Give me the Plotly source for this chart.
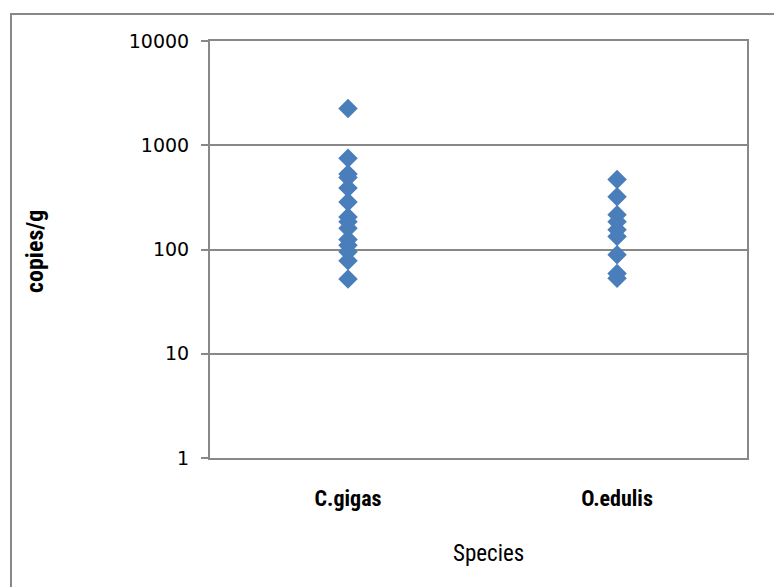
import plotly.graph_objects as go

species = ["C.gigas", "O.edulis"]
cgigas_values = [2250, 750, 530, 490, 390, 285, 205, 185, 160, 125, 110, 95, 78, 52]
oedulis_values = [470, 320, 215, 185, 155, 133, 89, 59, 53]
y_tick_values = [1, 10, 100, 1000, 10000]
y_tick_labels = ["1", "10", "100", "1000", "10000"]

xs = [species[0]] * len(cgigas_values) + [species[1]] * len(oedulis_values)
ys = cgigas_values + oedulis_values

W, H = 782, 587
OFF = 8  # page body margin offset
L, T = 210 - OFF, 41 - OFF
R, B = W - (747 - OFF), H - (458 - OFF)
pw, ph = W - L - R, H - T - B


def px_x(x):
    return (x - OFF - L) / pw


def px_y(y):
    return (T + ph - (y - OFF)) / ph


fig = go.Figure()
fig.add_trace(go.Scatter(
    x=xs, y=ys, mode="markers",
    marker=dict(symbol="diamond", size=15, color="#4A7EBB", line=dict(width=0)),
    showlegend=False,
))

label_font = "Liberation Sans Narrow, Roboto Condensed, Arial Narrow, Roboto, sans-serif"

fig.update_layout(
    width=W, height=H,
    margin=dict(l=L, r=R, t=T, b=B, autoexpand=False),
    paper_bgcolor="white", plot_bgcolor="white",
    xaxis=dict(
        type="category", range=[-0.513, 1.483], automargin=False,
        showgrid=False, zeroline=False,
        showline=True, linecolor="#888888", linewidth=2, mirror=True,
        ticks="", ticklabelstandoff=20,
        tickfont=dict(family=label_font, size=22, color="black", weight="bold"),
    ),
    yaxis=dict(
        type="log", range=[0, 4], automargin=False,
        tickvals=y_tick_values, ticktext=y_tick_labels,
        showgrid=True, gridcolor="#888888", gridwidth=1.5,
        showline=True, linecolor="#888888", linewidth=2, mirror=True,
        ticks="outside", ticklen=7, tickcolor="#888888", tickwidth=1.5,
        ticklabelstandoff=8,
        tickfont=dict(family="DejaVu Sans, Verdana, sans-serif", size=19, color="black"),
        zeroline=False,
    ),
    annotations=[
        dict(text="Species", xref="paper", yref="paper",
             x=px_x(488), y=px_y(553), showarrow=False,
             xanchor="center", yanchor="middle",
             font=dict(family=label_font, size=23, color="black")),
        dict(text="copies/g", xref="paper", yref="paper",
             x=px_x(35), y=px_y(252), showarrow=False, textangle=-90,
             xanchor="center", yanchor="middle",
             font=dict(family=label_font, size=24, color="black", weight="bold")),
    ],
)

# outer chart-area frame
fig.add_shape(
    type="rect", xref="paper", yref="paper",
    x0=px_x(11), x1=px_x(W + 30),
    y0=px_y(H + 30), y1=px_y(14),
    line=dict(color="#888888", width=2), fillcolor="rgba(0,0,0,0)", layer="below",
)

fig.write_html("out.html")
